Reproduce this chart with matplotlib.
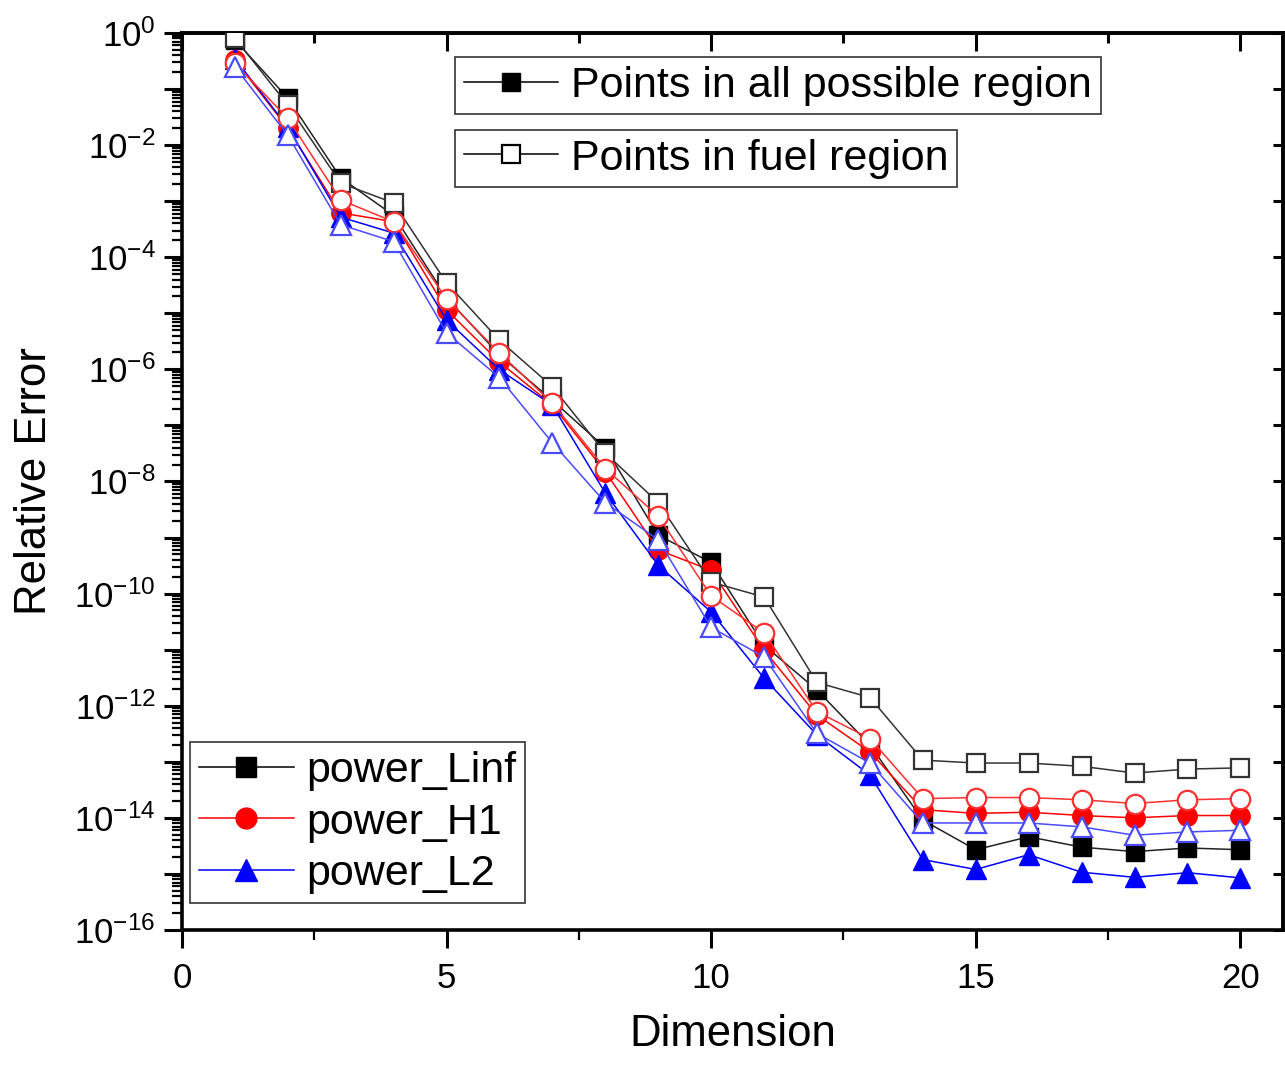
import numpy as np
import matplotlib
matplotlib.use('Agg')
import matplotlib.pyplot as plt
from matplotlib.lines import Line2D
from matplotlib.ticker import FixedLocator, LogLocator, NullLocator, MultipleLocator, NullFormatter

plt.rcParams['font.family'] = ['Liberation Sans', 'DejaVu Sans']
plt.rcParams['mathtext.fontset'] = 'custom'
plt.rcParams['mathtext.rm'] = 'Liberation Sans'
plt.rcParams['mathtext.default'] = 'regular'

# data
dims = list(range(1, 21))

linf_all = [7.5e-1, 6.9e-2, 2.6e-3, 5.6e-4, 1.9e-5, 1.8e-6, 2.8e-7, 4.0e-8, 1.1e-9, 3.6e-10,
            1.2e-11, 1.9e-12, 2.0e-13, 9.1e-15, 2.7e-15, 4.6e-15, 3.0e-15, 2.5e-15, 2.9e-15, 2.7e-15]
linf_fuel = [8.1e-1, 5.2e-2, 2.1e-3, 9.3e-4, 3.5e-5, 3.3e-6, 4.9e-7, 3.2e-8, 4.2e-9, 1.6e-10,
             8.7e-11, 2.6e-12, 1.4e-12, 1.07e-13, 9.5e-14, 9.5e-14, 8.3e-14, 6.3e-14, 7.4e-14, 7.8e-14]
h1_all = [3.3e-1, 2.0e-2, 6.2e-4, 4.3e-4, 1.15e-5, 1.35e-6, 2.3e-7, 1.5e-8, 6.0e-10, 2.6e-10,
          9.8e-12, 6.8e-13, 1.5e-13, 1.4e-14, 1.2e-14, 1.26e-14, 1.1e-14, 1.0e-14, 1.1e-14, 1.1e-14]
h1_fuel = [2.9e-1, 3.0e-2, 1.05e-3, 4.3e-4, 1.8e-5, 1.95e-6, 2.5e-7, 1.7e-8, 2.4e-9, 9.1e-11,
           2.0e-11, 7.8e-13, 2.6e-13, 2.2e-14, 2.3e-14, 2.3e-14, 2.1e-14, 1.8e-14, 2.1e-14, 2.2e-14]
l2_all = [3.5e-1, 2.1e-2, 5.2e-4, 2.7e-4, 7.6e-6, 9.8e-7, 2.3e-7, 6.2e-9, 3.2e-10, 4.7e-11,
          3.1e-12, 3.0e-13, 5.8e-14, 1.8e-15, 1.2e-15, 2.2e-15, 1.07e-15, 8.7e-16, 1.05e-15, 8.5e-16]
l2_fuel = [2.5e-1, 1.5e-2, 3.8e-4, 1.9e-4, 4.5e-6, 7.1e-7, 4.9e-8, 4.2e-9, 9.1e-10, 2.5e-11,
           7.4e-12, 3.2e-13, 9.5e-14, 8.1e-15, 8.1e-15, 8.1e-15, 6.9e-15, 4.9e-15, 5.6e-15, 6.0e-15]

y_exps = list(range(0, -17, -1))
y_ticklabels = [r'$10^{%d}$' % e if e % 2 == 0 else '' for e in y_exps]
x_ticks = [0, 5, 10, 15, 20]

fig = plt.figure(figsize=(12.85, 10.65), dpi=100)
ax = fig.add_axes([0.1416, 0.1268, 0.8566, 0.8422])

# filled markers: all possible region
ax.plot(dims, linf_all, '-', color='#222222', lw=1.1, marker='s', ms=13, mfc='black', mec='black', zorder=3)
ax.plot(dims, h1_all, '-', color='red', lw=1.1, marker='o', ms=14, mfc='red', mec='red', zorder=3)
ax.plot(dims, l2_all, '-', color='blue', lw=1.1, marker='^', ms=15, mfc='blue', mec='blue', zorder=3)
# open markers: fuel region
ax.plot(dims, linf_fuel, '-', color='#333333', lw=1.1, marker='s', ms=13, mfc='white', mec='#333333', mew=1.6, zorder=4)
ax.plot(dims, h1_fuel, '-', color='#ff3030', lw=1.1, marker='o', ms=14, mfc='white', mec='#ff3030', mew=1.6, zorder=4)
ax.plot(dims, l2_fuel, '-', color='#4a4aff', lw=1.1, marker='^', ms=15, mfc='white', mec='#4a4aff', mew=1.6, zorder=4)

ax.set_yscale('log')
ax.set_ylim(1e-16, 1e0)
ax.set_xlim(0, 20.8)

ax.yaxis.set_major_locator(FixedLocator([10.0 ** e for e in y_exps]))
ax.set_yticklabels(y_ticklabels)
ax.yaxis.set_minor_locator(LogLocator(base=10, subs=np.arange(2, 10), numticks=40))
ax.yaxis.set_minor_formatter(NullFormatter())
ax.set_xticks(x_ticks)
ax.xaxis.set_minor_locator(MultipleLocator(2.5))

ax.tick_params(which='major', direction='out', length=13, width=2.2, labelsize=25, pad=6)
ax.tick_params(which='minor', direction='out', length=7, width=1.6)
ax.tick_params(axis='x', which='major', pad=10)

for s in ax.spines.values():
    s.set_linewidth(2.6)

# inward ticks on the top and right sides
top = ax.secondary_xaxis('top')
top.set_xticks(x_ticks)
top.set_xticklabels([])
top.xaxis.set_minor_locator(MultipleLocator(2.5))
top.tick_params(which='major', direction='in', length=13, width=2.2)
top.tick_params(which='minor', direction='in', length=7, width=2.2)
top.spines['top'].set_linewidth(2.6)

right = ax.secondary_yaxis('right')
right.set_yticks([10.0 ** e for e in y_exps])
right.set_yticklabels([])
right.yaxis.set_minor_locator(NullLocator())
right.tick_params(which='major', direction='in', length=7, width=2.2)
right.spines['right'].set_linewidth(2.6)

ax.set_xlabel('Dimension', fontsize=31.5, labelpad=14)
ax.set_ylabel('Relative Error', fontsize=31.5, labelpad=14)

leg_kw = dict(frameon=True, fancybox=False, framealpha=1, edgecolor='#333333', fontsize=31,
              handlelength=2.2, handletextpad=0.3, borderpad=0.2, borderaxespad=0,
              loc='upper left', bbox_transform=fig.transFigure)

h_all = Line2D([], [], color='black', lw=1.1, marker='s', ms=13, mfc='black', mec='black')
h_fuel = Line2D([], [], color='black', lw=1.1, marker='s', ms=13, mfc='white', mec='black', mew=1.6)
leg1 = ax.legend([h_all], ['Points in all possible region'], bbox_to_anchor=(0.354, 0.9465),
                 **leg_kw)
leg1.get_frame().set_linewidth(1.2)
ax.add_artist(leg1)
leg2 = ax.legend([h_fuel], ['Points in fuel region'], bbox_to_anchor=(0.354, 0.878), **leg_kw)
leg2.get_frame().set_linewidth(1.2)
ax.add_artist(leg2)

h_linf = Line2D([], [], color='black', lw=1.1, marker='s', ms=14, mfc='black', mec='black')
h_h1 = Line2D([], [], color='red', lw=1.1, marker='o', ms=15, mfc='red', mec='red')
h_l2 = Line2D([], [], color='blue', lw=1.1, marker='^', ms=16, mfc='blue', mec='blue')
leg3 = ax.legend([h_linf, h_h1, h_l2], ['power_Linf', 'power_H1', 'power_L2'],
                 bbox_to_anchor=(0.148, 0.303), labelspacing=0.27, **leg_kw)
leg3.get_frame().set_linewidth(1.2)

fig.savefig('out.png', dpi=100)
